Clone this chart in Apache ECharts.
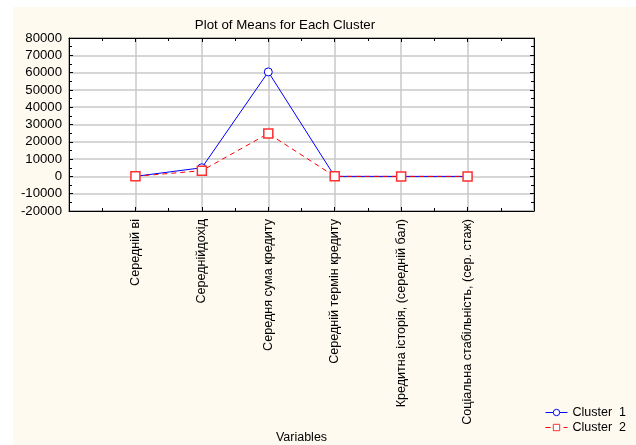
<!DOCTYPE html>
<html><head><meta charset="utf-8">
<script src="https://cdn.jsdelivr.net/npm/echarts@6/dist/echarts.min.js"></script>
<style>html,body{margin:0;padding:0;background:#fff}#c{width:636px;height:445px}</style>
</head><body><div id="c"></div>
<script>
var categories = ['Середній ві','Середнійдохід','Середня сума кредиту','Середній термін кредиту','Кредитна історія, (середній бал)','Соціальна стабільність, (сер. стаж)'];
var cluster1 = [40, 5000, 60400, 20, 3, 5];
var cluster2 = [38, 3300, 24800, 18, 3, 5];
var yTicks = {min: -20000, max: 80000, interval: 10000};

function pairs(arr){ return arr.map(function(v,i){ return [i+1, v]; }); }
var font = 'Liberation Sans, Arial, sans-serif';
var chart = echarts.init(document.getElementById('c'), null, {renderer:'canvas'});
var xBase = {
  type:'value', min:0, max:7, interval:1,
  axisLine:{show:true, onZero:false, lineStyle:{color:'#000', width:1}},
  axisTick:{show:true, inside:true, length:4, lineStyle:{color:'#000'}},
  minorTick:{show:true, splitNumber:2, length:3, lineStyle:{color:'#000'}},
  splitLine:{show:false}
};
chart.setOption({
  animation:false,
  backgroundColor:'#ffffff',
  graphic:[{type:'rect', shape:{x:13, y:7, width:623, height:438}, style:{fill:'#fefaf0'}, z:-10, silent:true}],
  title:{text:'Plot of Means for Each Cluster', left:280, top:14, textAlign:'center',
    textStyle:{fontFamily:font, fontSize:13.3, fontWeight:'normal', color:'#000'}},
  grid:{left:69, right:102, top:38, bottom:233, show:true, backgroundColor:'#ffffff', borderColor:'#000', borderWidth:1},
  legend:{orient:'vertical', left:540, top:401, itemGap:2, itemWidth:22, itemHeight:8,
    lineStyle:{width:1}, itemStyle:{borderWidth:1},
    textStyle:{fontFamily:font, fontSize:12.5, color:'#000'},
    data:['Cluster  1','Cluster  2']},
  xAxis:[
    Object.assign({}, xBase, {position:'bottom',
      splitLine:{show:true, lineStyle:{color:'#c8c8c8', width:1.5}},
      axisLabel:{show:true, rotate:90, margin:8, fontFamily:font, fontSize:12.6, color:'#000',
        formatter:function(v){ return categories[v-1] || ''; }},
      name:'Variables', nameLocation:'middle', nameGap:220,
      nameTextStyle:{fontFamily:font, fontSize:12.5, color:'#000'}
    }),
    Object.assign({}, xBase, {position:'top', axisLabel:{show:false}})
  ],
  yAxis:[
    {type:'value', min:yTicks.min, max:yTicks.max, interval:yTicks.interval, position:'left',
      axisLine:{show:true, onZero:false, lineStyle:{color:'#000'}},
      axisTick:{show:true, inside:true, length:4, lineStyle:{color:'#000'}},
      minorTick:{show:true, splitNumber:2, length:3, lineStyle:{color:'#000'}},
      splitLine:{show:true, lineStyle:{color:'#c8c8c8', width:1.5}},
      axisLabel:{fontFamily:font, fontSize:13.2, color:'#000', margin:7, formatter:function(v){ return String(v); }}},
    {type:'value', min:yTicks.min, max:yTicks.max, interval:yTicks.interval, position:'right',
      axisLine:{show:true, onZero:false, lineStyle:{color:'#000'}},
      axisTick:{show:true, inside:true, length:4, lineStyle:{color:'#000'}},
      minorTick:{show:true, splitNumber:2, length:3, lineStyle:{color:'#000'}},
      splitLine:{show:false}, axisLabel:{show:false}}
  ],
  series:[
    {name:'Cluster  1', type:'line', data:pairs(cluster1), symbol:'circle', symbolSize:8,
      lineStyle:{color:'#0000ff', width:1},
      itemStyle:{color:'#ffffff', borderColor:'#0000ff', borderWidth:1}, z:2},
    {name:'Cluster  2', type:'line', data:pairs(cluster2), symbol:'rect', symbolSize:9,
      lineStyle:{color:'#ff0000', width:1, type:[5,4]},
      itemStyle:{color:'#ffffff', borderColor:'#ff3030', borderWidth:1.5}, z:3}
  ]
});
</script></body></html>
